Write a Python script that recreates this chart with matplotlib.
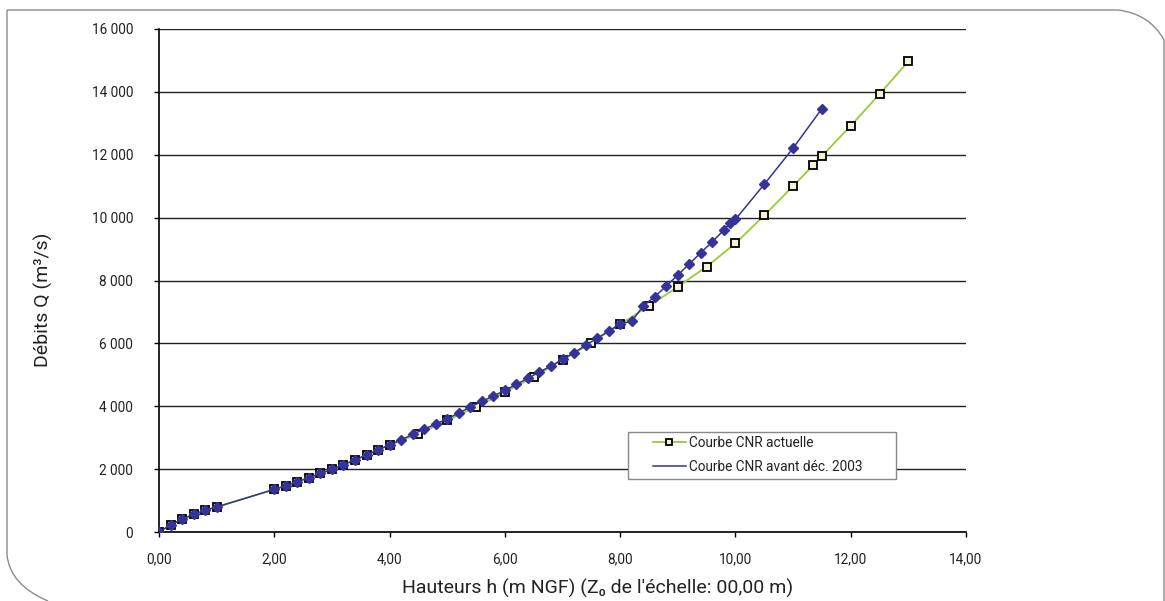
import matplotlib
matplotlib.use("Agg")
import matplotlib.pyplot as plt
from matplotlib.lines import Line2D
from matplotlib.path import Path
from matplotlib.patches import PathPatch, Rectangle
from matplotlib.ticker import FuncFormatter, MultipleLocator

plt.rcParams['font.family'] = ['Roboto', 'DejaVu Sans']

# hauteurs (m) / debits (m3/s) - courbe CNR avant dec. 2003
h_avant = [0.0, 0.2, 0.4, 0.6, 0.8, 1.0,
           2.0, 2.2, 2.4, 2.6, 2.8, 3.0, 3.2, 3.4, 3.6, 3.8, 4.0,
           4.2, 4.4, 4.6, 4.8, 5.0, 5.2, 5.4, 5.6, 5.8, 6.0,
           6.2, 6.4, 6.6, 6.8, 7.0, 7.2, 7.4, 7.6, 7.8, 8.0,
           8.2, 8.4, 8.6, 8.8, 9.0, 9.2, 9.4, 9.6, 9.8, 9.9, 10.0,
           10.5, 11.0, 11.5]
q_avant = [0, 220, 410, 560, 690, 795,
           1355, 1470, 1600, 1725, 1865, 1995, 2140, 2290, 2450, 2610, 2770,
           2930, 3110, 3270, 3435, 3600, 3785, 3975, 4155, 4325, 4505,
           4700, 4890, 5090, 5280, 5490, 5700, 5935, 6160, 6390, 6620,
           6700, 7190, 7485, 7825, 8175, 8525, 8885, 9235, 9605, 9820, 9945,
           11060, 12210, 13465]

# courbe CNR actuelle
h_act = [0.0, 0.2, 0.4, 0.6, 0.8, 1.0,
         2.0, 2.2, 2.4, 2.6, 2.8, 3.0, 3.2, 3.4, 3.6, 3.8, 4.0,
         4.5, 5.0, 5.5, 6.0, 6.5, 7.0, 7.5, 8.0, 8.5, 9.0, 9.5,
         10.0, 10.5, 11.0, 11.35, 11.5, 12.0, 12.5, 13.0]
q_act = [0, 220, 410, 560, 690, 795,
         1355, 1470, 1600, 1725, 1865, 1995, 2140, 2290, 2450, 2610, 2770,
         3115, 3550, 3980, 4445, 4940, 5465, 6020, 6605, 7190, 7800, 8440,
         9180, 10070, 11005, 11665, 11960, 12920, 13930, 14970]

lab_act = "Courbe CNR actuelle"
lab_avant = "Courbe CNR avant déc. 2003"

W, H = 1165, 601
fig = plt.figure(figsize=(11.65, 6.01), dpi=100)
ax = fig.add_axes([159/W, 1-532/H, (966-159)/W, (532-29)/H])

ax.plot(h_act, q_act, color='#99cc33', lw=1.3, marker='s', ms=5.5,
        mfc='#f2f2d8', mec='black', mew=1.3, zorder=3)
ax.plot(h_avant, q_avant, color='#333399', lw=1.1, marker='D', ms=5,
        mfc='#333399', mec='#333399', zorder=4)

ax.set_xlim(0, 14)
ax.set_ylim(0, 16000)
ax.xaxis.set_major_locator(MultipleLocator(2))
ax.yaxis.set_major_locator(MultipleLocator(2000))
ax.xaxis.set_major_formatter(FuncFormatter(lambda v, p: f"{v:.2f}".replace('.', ',')))
ax.yaxis.set_major_formatter(FuncFormatter(lambda v, p: f"{int(v):,}".replace(',', ' ')))
ax.tick_params(axis='both', direction='out', length=3.6, width=1, color='black',
               labelsize=9.8, labelcolor='#222222')
ax.tick_params(axis='y', pad=15)
ax.tick_params(axis='x', pad=11)

ax.grid(axis='y', color='#222222', lw=1)
ax.set_axisbelow(True)
for s in ['top', 'right']:
    ax.spines[s].set_visible(False)
for s in ['left', 'bottom']:
    ax.spines[s].set_color('black')
    ax.spines[s].set_linewidth(1.2)

# legende : cadre dessine a part
fig.patches.append(Rectangle((628/W, 1-479/H), (896-628)/W, 47/H,
                             transform=fig.transFigure, facecolor='white',
                             edgecolor='#888888', lw=1, zorder=5))
handles = [Line2D([], [], color='#99cc33', lw=1.3, marker='s', ms=5,
                  mfc='#f2f2d8', mec='black', mew=1.3),
           Line2D([], [], color='#333399', lw=1.1)]
leg = fig.legend(handles, [lab_act, lab_avant], loc='center left',
                 bbox_to_anchor=(653/W, 1-455/H), borderaxespad=0, borderpad=0,
                 fontsize=9.8, frameon=False, handlelength=2.4,
                 handletextpad=0.25, labelspacing=0.7)
leg.set_zorder(6)
for t in leg.get_texts():
    t.set_color('#222222')

fig.text(598/W, 1-588/H, "Hauteurs h (m NGF) (Z₀ de l'échelle: 00,00 m)",
         ha='center', va='center', fontsize=14, color='#222222')
fig.text(43/W, 1-300/H, "Débits Q (m³/s)", rotation=90,
         ha='center', va='center', fontsize=14, color='#222222')

# cadre arrondi
verts = [(7, 555), (7, 10), (1118, 10), (1150, 14), (1164, 40), (1164, 601)]
codes = [Path.MOVETO, Path.LINETO, Path.LINETO, Path.CURVE3, Path.CURVE3, Path.LINETO]
p1 = Path([(x/W, 1-y/H) for x, y in verts], codes)
fig.patches.append(PathPatch(p1, transform=fig.transFigure, fill=False,
                             edgecolor='#8c8c8c', lw=1))
verts2 = [(7, 555), (10, 585), (48, 601)]
p2 = Path([(x/W, 1-y/H) for x, y in verts2], [Path.MOVETO, Path.CURVE3, Path.CURVE3])
fig.patches.append(PathPatch(p2, transform=fig.transFigure, fill=False,
                             edgecolor='#8c8c8c', lw=1))

fig.savefig("out.png", dpi=100)
